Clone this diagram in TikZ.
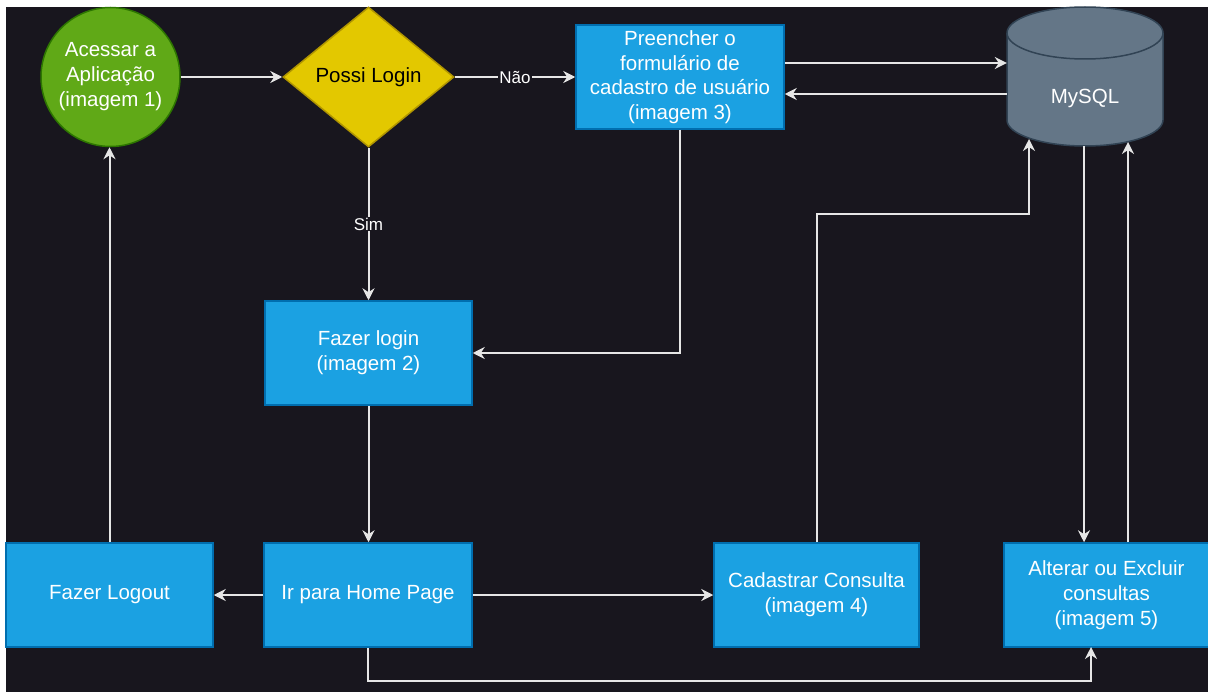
\documentclass[tikz,border=0pt]{standalone}
\usepackage{fontspec}
\setmainfont{Liberation Sans}
\usetikzlibrary{shapes.geometric,arrows.meta}
\definecolor{bg}{HTML}{18161E}
\definecolor{boxfill}{HTML}{1BA1E2}
\definecolor{boxline}{HTML}{006EAF}
\definecolor{greenfill}{HTML}{60A917}
\definecolor{greenline}{HTML}{2D7600}
\definecolor{yelfill}{HTML}{E3C800}
\definecolor{yelline}{HTML}{B09500}
\definecolor{dbfill}{HTML}{647687}
\definecolor{dbline}{HTML}{314354}
\definecolor{linec}{HTML}{E6E6E6}
\begin{document}
\begin{tikzpicture}[x=1pt,y=-1pt,
  txt/.style={font=\fontsize{20.5}{25}\selectfont, text=white, align=center},
  box/.style={txt, rectangle, draw=boxline, fill=boxfill, line width=1.5pt, minimum width=207pt, minimum height=104pt, inner sep=0pt},
  conn/.style={draw=linec, line width=2pt, -{Stealth[length=12pt,width=12pt,inset=4pt]}},
  lbl/.style={font=\fontsize{17}{20}\selectfont, text=white, fill=bg, inner sep=1pt}
]
\useasboundingbox (0,0) rectangle (1208,693);
\fill[white] (0,0) rectangle (1208,693);
\fill[bg] (6,7) rectangle (1208,692);

% nodes
\node[circle, fill=greenfill, draw=greenline, line width=1.5pt, minimum size=139pt, inner sep=0pt, txt] (acc) at (110.5,77) {Acessar a\\Aplicação\\(imagem 1)};
\node[diamond, fill=yelfill, draw=yelline, line width=1.5pt, minimum width=171pt, minimum height=140pt, inner sep=0pt, txt, text=black] (dia) at (368.5,77) {Possi Login};
\node[box, minimum width=208pt, font=\fontsize{20.5}{24.5}\selectfont] (pre) at (680,77) {Preencher o\\formulário de\\cadastro de usuário\\(imagem 3)};
\node[box] (login) at (368.5,353) {Fazer login\\(imagem 2)};
\node[box] (logout) at (109.5,595) {Fazer Logout};
\node[box, minimum width=208pt] (home) at (368,595) {Ir para Home Page};
\node[box, minimum width=205pt] (cad) at (816.5,595) {Cadastrar Consulta\\(imagem 4)};
\node[box, minimum width=205pt] (alt) at (1106.5,595) {Alterar ou Excluir\\consultas\\(imagem 5)};

% database cylinder
\fill[dbfill] (1007,33) -- (1007,120) arc[start angle=180, end angle=360, x radius=78pt, y radius=26pt] -- (1163,33) arc[start angle=0, end angle=180, x radius=78pt, y radius=26pt] -- cycle;
\draw[dbline, line width=1.5pt] (1007,33) -- (1007,120) arc[start angle=180, end angle=360, x radius=78pt, y radius=26pt] -- (1163,33);
\draw[dbline, line width=1.5pt] (1085,33) ellipse[x radius=78pt, y radius=26pt];
\node[minimum width=156pt, minimum height=139pt, inner sep=0pt] (db) at (1085,76.5) {};
\node[txt] (dbl) at (1085,98) {MySQL};

\coordinate (dbb1) at (1029,139);
\coordinate (dbb2) at (1084,146);
\coordinate (dbb3) at (1128,142);
\coordinate (altb) at (1091,647);
\coordinate (bot) at (0,681);
\coordinate (mid) at (0,214);

% connectors
\draw[conn] (acc.east) -- (dia.west);
\draw[conn] (dia.east) -- node[lbl]{Não} (pre.west);
\draw[conn] ([yshift=14pt]pre.east) -- ([yshift=14pt]pre.east -| db.west);
\draw[conn] ([yshift=-17pt]pre.east -| db.west) -- ([yshift=-17pt]pre.east);
\draw[conn] (dia.south) -- node[lbl]{Sim} (dia.south |- login.north);
\draw[conn] (pre.south) |- (login.east);
\draw[conn] (login.south) -- (login.south |- home.north);
\draw[conn] (home.west) -- (logout.east);
\draw[conn] (home.east) -- (cad.west);
\draw[conn] (logout.north) -- (logout.north |- acc.south);
\draw[conn] (home.south) -- (home.south |- bot) -| (altb);
\draw[conn] (cad.north) -- (cad.north |- mid) -| (dbb1);
\draw[conn] (dbb2) -- (dbb2 |- alt.north);
\draw[conn] (dbb3 |- alt.north) -- (dbb3);
\end{tikzpicture}
\end{document}
